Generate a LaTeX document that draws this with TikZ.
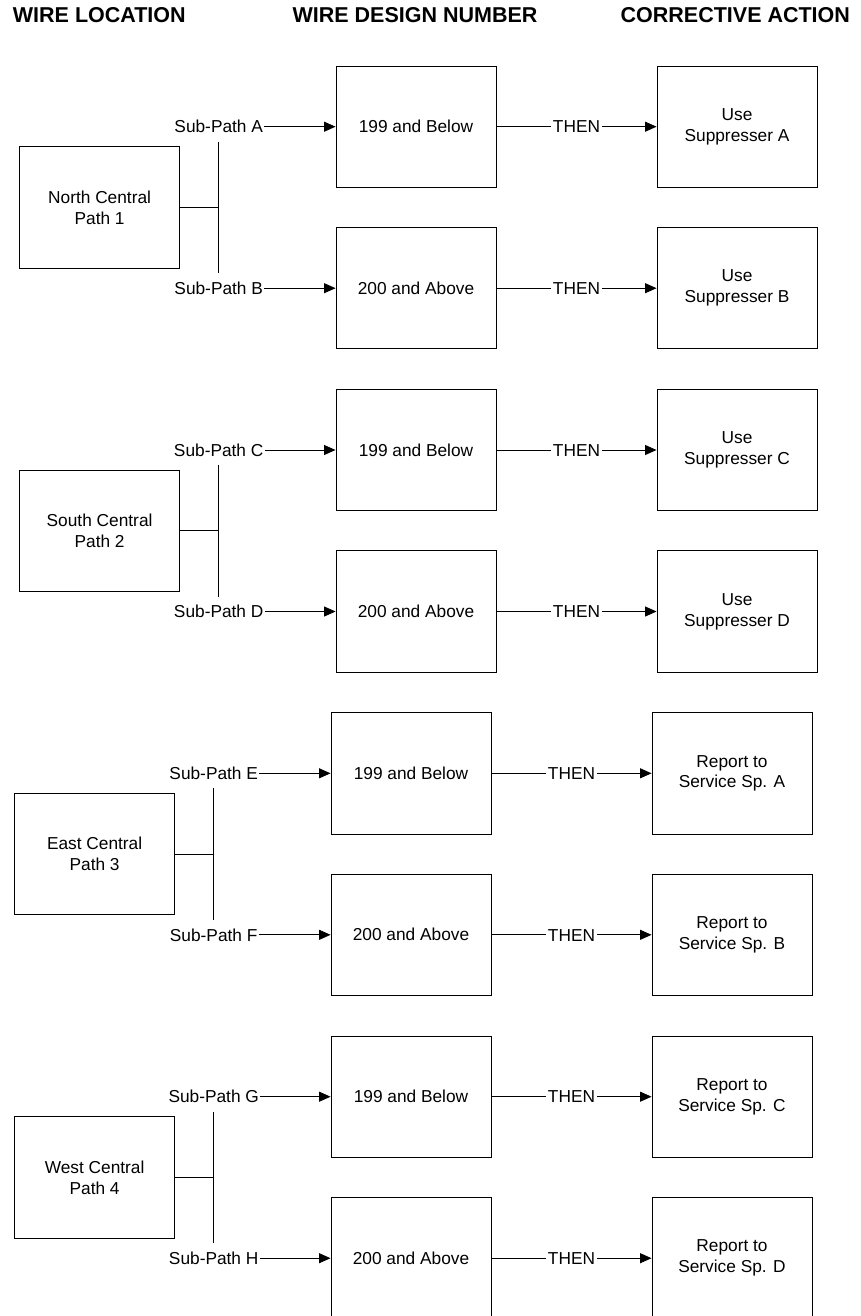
\documentclass[tikz,border=0pt]{standalone}
\usepackage{fontspec}
\setmainfont{Liberation Sans}
\usetikzlibrary{arrows.meta}
\begin{document}
\begin{tikzpicture}[x=1pt,y=-1pt, line width=0.9pt,
  box/.style={draw=black, line width=0.9pt, minimum width=160pt, minimum height=121.3pt,
    inner sep=0pt, align=center, font=\fontsize{17.3}{20.8}\selectfont},
  lbl/.style={inner xsep=1pt, inner ysep=0pt, text height=12.4pt, text depth=0pt,
    minimum height=29pt, font=\fontsize{17.3}{20.8}\selectfont},
  hdr/.style={inner sep=0pt, text height=15.4pt, text depth=0pt,
    font=\fontsize{21.5}{24}\selectfont\bfseries},
  arr/.style={-{Triangle[length=11.5pt,width=10pt]}}]
\useasboundingbox (0,0) rectangle (860,1316);
\clip (0,0) rectangle (860,1316);
\fill[white] (0,0) rectangle (860,1316);

\node[hdr] (h1) at (99.3,15) {WIRE LOCATION};
\node[hdr] (h2) at (415,15) {WIRE DESIGN NUMBER};
\node[hdr] (h3) at (735.3,15) {CORRECTIVE ACTION};

\foreach \g/\yc/\dx/\loc/\sa/\sb/\ra/\rb in {
  1/126.7/0/{North Central\\Path 1}/A/B/{Use\\Suppresser A}/{Use\\Suppresser B},
  2/450/0/{South Central\\Path 2}/C/D/{Use\\Suppresser C}/{Use\\Suppresser D},
  3/773.3/-5/{East Central\\Path 3}/E/F/{Report to\\Service Sp. A}/{Report to\\Service Sp. B},
  4/1096.7/-5/{West Central\\Path 4}/G/H/{Report to\\Service Sp. C}/{Report to\\Service Sp. D}}{
  \pgfmathsetmacro{\yb}{\yc+161.5}
  \pgfmathsetmacro{\ym}{\yc+80.75}
  \node[box] (L\g) at (99.6+\dx,\ym) {\loc};
  \node[lbl] (SA\g) at (218.7+\dx,\yc) {Sub-Path \sa};
  \node[lbl] (SB\g) at (218.7+\dx,\yb) {Sub-Path \sb};
  \node[box] (MA\g) at (416+\dx,\yc) {199 and Below};
  \node[box] (MB\g) at (416+\dx,\yb) {200 and Above};
  \node[lbl,inner xsep=1.5pt] (TA\g) at (576.5+\dx,\yc) {THEN};
  \node[lbl,inner xsep=1.5pt] (TB\g) at (576.5+\dx,\yb) {THEN};
  \node[box] (RA\g) at (737+\dx,\yc) {\ra};
  \node[box] (RB\g) at (737+\dx,\yb) {\rb};
  \draw (SA\g.south) -- (SB\g.north);
  \draw (L\g.east) -- (L\g.east -| SA\g.center);
  \draw[arr] (SA\g.east) -- (MA\g.west);
  \draw[arr] (SB\g.east) -- (MB\g.west);
  \draw (MA\g.east) -- (TA\g.west);
  \draw (MB\g.east) -- (TB\g.west);
  \draw[arr] (TA\g.east) -- (RA\g.west);
  \draw[arr] (TB\g.east) -- (RB\g.west);
}
\end{tikzpicture}
\end{document}
